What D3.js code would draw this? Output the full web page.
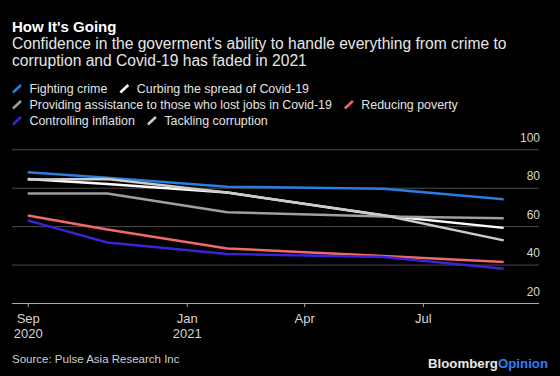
<!DOCTYPE html>
<html>
<head>
<meta charset="utf-8">
<script src="https://cdn.jsdelivr.net/npm/d3@7"></script>
<style>
  html, body { margin: 0; padding: 0; background: #000; }
  svg { display: block; font-family: "Liberation Sans", Arial, sans-serif; }
</style>
</head>
<body>
<svg id="chart" width="560" height="376"></svg>
<script>
//#region DATA /////////////////////////////////////////////////////////////////

// survey months, approval in percent
const surveyDates = ["2020-09-01", "2020-11-01", "2021-02-01", "2021-06-01", "2021-09-01"];

const fightingCrime        = [88, 85.2, 80.5, 79.5, 74];
const curbingCovid         = [84.5, 82, 77.5, 65.5, 59.1];
const providingAssistance  = [77, 77, 67.2, 65, 64.1];
const reducingPoverty      = [65.5, 58.3, 48.4, 44.4, 41.3];
const controllingInflation = [63, 51.5, 45.5, 44, 37.8];
const tacklingCorruption   = [84.3, 84.6, 77.5, 65.7, 52.6];

const seriesNames = [
  "Fighting crime", "Curbing the spread of Covid-19",
  "Providing assistance to those who lost jobs in Covid-19", "Reducing poverty",
  "Controlling inflation", "Tackling corruption"
];
const seriesValues = [
  fightingCrime, curbingCovid, providingAssistance, reducingPoverty,
  controllingInflation, tacklingCorruption
];
const seriesColors = ["#2a7de1", "#ffffff", "#9f9f9f", "#ef6a6a", "#3b23d6", "#cbcbcb"];

const xTickDates = ["2020-09-01", "2021-01-01", "2021-04-01", "2021-07-01"];
const yTicks = [20, 40, 60, 80, 100];

//#endregion

//#region LAYOUT ///////////////////////////////////////////////////////////////

const GRID_LEFT = 12, GRID_RIGHT = 539;
const PLOT_LEFT = 27.7, PLOT_RIGHT = 503.7;
const PLOT_TOP = 149.3, PLOT_BOTTOM = 303;
const LINE_WIDTH = 2.5;

const parse = d3.timeParse("%Y-%m-%d");
const svg = d3.select("#chart");

svg.append("rect").attr("width", 560).attr("height", 376).attr("fill", "#000");

let x = d3.scaleTime()
    .domain([parse("2020-09-01"), parse("2021-09-01")])
    .range([PLOT_LEFT, PLOT_RIGHT]);
let y = d3.scaleLinear().domain([20, 100]).range([PLOT_BOTTOM, PLOT_TOP]);

//#endregion

//#region TEXT /////////////////////////////////////////////////////////////////

svg.append("text")
    .attr("x", 12).attr("y", 31.5)
    .attr("fill", "#fff")
    .attr("font-size", 15).attr("font-weight", "bold")
    .text("How It's Going");

const subtitle = [
  "Confidence in the goverment's ability to handle everything from crime to",
  "corruption and Covid-19 has faded in 2021"
];
svg.append("g").selectAll("text").data(subtitle).join("text")
    .attr("x", 12).attr("y", (_d, i) => 48.5 + i * 17.5)
    .attr("fill", "#e6e6e6")
    .attr("font-size", 15.6)
    .text(d => d);

//#endregion

//#region LEGEND ///////////////////////////////////////////////////////////////

function drawLegend()
{
  let g = svg.append("g");
  let cx = 12, row = 0;
  const ROW_Y = 93, ROW_H = 16, MAX_X = 545;

  seriesNames.forEach((name, i) => {
    let item = g.append("g");
    item.append("line")
        .attr("x1", 1).attr("y1", -0.5).attr("x2", 9).attr("y2", -8)
        .attr("stroke", seriesColors[i]).attr("stroke-width", 2.5);
    let t = item.append("text")
        .attr("x", 17.5).attr("fill", "#e3e3e3").attr("font-size", 12.4)
        .text(name);
    let w = 17.5 + t.node().getComputedTextLength();
    if (cx + w > MAX_X)
    {
      cx = 12;
      row++;
    }
    item.attr("transform", "translate(" + cx + "," + (ROW_Y + row * ROW_H) + ")");
    cx += w + 12;
  });
}
drawLegend();

//#endregion

//#region AXES /////////////////////////////////////////////////////////////////

let yAxis = svg.append("g")
    .attr("transform", "translate(" + GRID_LEFT + ",0)")
    .call(d3.axisRight(y).tickValues(yTicks).tickSize(GRID_RIGHT - GRID_LEFT));
yAxis.select(".domain").remove();
yAxis.selectAll("line").attr("stroke", d => d === 20 ? "#a8a8a8" : "#4d4d4d");
yAxis.selectAll("text")
    .attr("x", GRID_RIGHT - GRID_LEFT + 1).attr("y", -8).attr("dy", 0)
    .attr("text-anchor", "end")
    .attr("fill", "#d6d6d6").attr("font-size", 12)
    .attr("font-family", "Liberation Sans, Arial, sans-serif");

let xAxis = svg.append("g")
    .attr("transform", "translate(0," + PLOT_BOTTOM + ")")
    .call(d3.axisBottom(x).tickValues(xTickDates.map(parse))
              .tickSize(4).tickPadding(7).tickFormat(d3.timeFormat("%b")));
xAxis.select(".domain").remove();
xAxis.selectAll("line").attr("stroke", "#a8a8a8");
xAxis.selectAll("text")
    .attr("fill", "#d6d6d6").attr("font-size", 13)
    .attr("font-family", "Liberation Sans, Arial, sans-serif");
// year on a second line for the first tick and for January
xAxis.selectAll(".tick text").each(function(d, i) {
  if (i === 0 || d.getMonth() === 0)
  {
    d3.select(this).append("tspan")
        .attr("x", 0).attr("dy", 15)
        .text(d3.timeFormat("%Y")(d));
  }
});

//#endregion

//#region LINES ////////////////////////////////////////////////////////////////

let dates = surveyDates.map(parse);
let gen = d3.line().x((_d, i) => x(dates[i])).y(d => y(d));

svg.append("g").selectAll("path").data(seriesValues).join("path")
    .attr("d", d => gen(d))
    .attr("fill", "none")
    .attr("stroke", (_d, i) => seriesColors[i])
    .attr("stroke-width", LINE_WIDTH)
    .attr("stroke-linejoin", "round");

//#endregion

//#region FOOTER ///////////////////////////////////////////////////////////////

svg.append("text")
    .attr("x", 12).attr("y", 363)
    .attr("fill", "#cfcfcf").attr("font-size", 11.5)
    .text("Source: Pulse Asia Research Inc");

let logo = svg.append("text")
    .attr("x", 548).attr("y", 368)
    .attr("text-anchor", "end")
    .attr("font-size", 13.25).attr("font-weight", "bold");
logo.append("tspan").attr("fill", "#e8e8e8").text("Bloomberg");
logo.append("tspan").attr("fill", "#2d7ff9").text("Opinion");

//#endregion
</script>
</body>
</html>
